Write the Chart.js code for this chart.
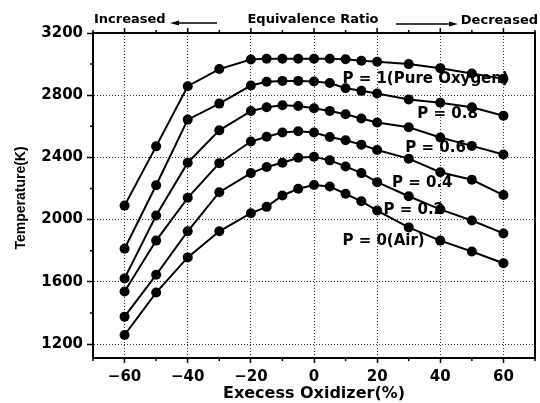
<!DOCTYPE html>
<html>
<head>
<meta charset="utf-8">
<script src="https://cdn.jsdelivr.net/npm/chart.js@4/dist/chart.umd.min.js"></script>
<style>
  html, body { margin: 0; padding: 0; background: #fff; }
  canvas { display: block; }
</style>
</head>
<body>
<canvas id="graf" width="540" height="403"></canvas>
<script>
// Excess oxidizer (%) along the x axis
const oxidizer = [-60, -50, -40, -30, -20, -15, -10, -5, 0, 5, 10, 15, 20, 30, 40, 50, 60]

// Flame temperature (K) per oxygen fraction P
const tempP10 = [2090, 2471, 2858, 2968, 3030, 3034, 3034, 3034, 3034, 3034, 3031, 3022, 3015, 3000, 2974, 2940, 2905]
const tempP08 = [1813, 2221, 2643, 2746, 2862, 2886, 2892, 2892, 2888, 2878, 2845, 2828, 2811, 2773, 2752, 2722, 2668]
const tempP06 = [1622, 2026, 2366, 2574, 2698, 2723, 2735, 2731, 2716, 2699, 2677, 2650, 2625, 2594, 2528, 2474, 2419]
const tempP04 = [1538, 1865, 2140, 2363, 2502, 2533, 2560, 2568, 2560, 2531, 2510, 2482, 2448, 2392, 2305, 2256, 2158]
const tempP02 = [1376, 1645, 1925, 2176, 2299, 2338, 2366, 2398, 2404, 2381, 2342, 2299, 2241, 2150, 2066, 1994, 1911]
const tempP00 = [1258, 1531, 1757, 1925, 2041, 2082, 2155, 2198, 2222, 2213, 2166, 2118, 2058, 1950, 1865, 1795, 1719]

const seriesNames = ['P = 1(Pure Oxygen)', 'P = 0.8', 'P = 0.6', 'P = 0.4', 'P = 0.2', 'P = 0(Air)']
const seriesData = [tempP10, tempP08, tempP06, tempP04, tempP02, tempP00]

// Tick labels
const xTicks = [-60, -40, -20, 0, 20, 40, 60]
const xMinor = [-70, -50, -30, -10, 10, 30, 50, 70]
const yTicks = [1200, 1600, 2000, 2400, 2800, 3200]
const yMinor = [1400, 1800, 2200, 2600, 3000]

const FONT = '"DejaVu Sans", sans-serif'

// Series labels written inside the plot (data coordinates of left edge / middle)
const labelPos = [
    { x: 9.0,  y: 2904 },
    { x: 32.7, y: 2679 },
    { x: 28.9, y: 2458 },
    { x: 24.7, y: 2233 },
    { x: 22.0, y: 2062 },
    { x: 9.0,  y: 1864 }
]

// Frame, minor ticks, titles, labels
const extras = {
    id: 'extras',
    beforeDraw(chart) {
        const c = chart.ctx
        c.save()
        c.fillStyle = '#fff'
        c.fillRect(0, 0, chart.width, chart.height)
        c.restore()
    },
    afterDraw(chart) {
        const c = chart.ctx
        const a = chart.chartArea
        const sx = chart.scales.x
        const sy = chart.scales.y
        c.save()
        c.strokeStyle = '#000'
        c.lineWidth = 2
        c.strokeRect(a.left, a.top, a.right - a.left, a.bottom - a.top)

        // ticks on top edge (outward) and minor ticks
        c.lineWidth = 1.5
        c.beginPath()
        xTicks.forEach(v => {
            const px = sx.getPixelForValue(v)
            c.moveTo(px, a.top); c.lineTo(px, a.top - 5)
        })
        xMinor.forEach(v => {
            const px = sx.getPixelForValue(v)
            c.moveTo(px, a.top); c.lineTo(px, a.top - 3)
            c.moveTo(px, a.bottom); c.lineTo(px, a.bottom + 3)
        })
        yMinor.forEach(v => {
            const py = sy.getPixelForValue(v)
            c.moveTo(a.left, py); c.lineTo(a.left - 3, py)
        })
        c.stroke()

        // top annotation
        c.fillStyle = '#000'
        c.font = 'bold 13px ' + FONT
        c.textBaseline = 'middle'
        c.textAlign = 'left'
        c.fillText('Increased', 94, 20)
        c.textAlign = 'center'
        c.fillText('Equivalence Ratio', 313, 20)
        c.textAlign = 'right'
        c.fillText('Decreased', 538, 21)
        c.lineWidth = 1.5
        c.beginPath()
        c.moveTo(174, 23); c.lineTo(217, 23)
        c.moveTo(396, 24); c.lineTo(452, 24)
        c.stroke()
        c.beginPath()
        c.moveTo(170, 23); c.lineTo(179, 20.5); c.lineTo(179, 25.5); c.closePath()
        c.moveTo(458, 24); c.lineTo(449, 21.5); c.lineTo(449, 26.5); c.closePath()
        c.fill()

        // axis titles
        c.textAlign = 'center'
        c.font = 'bold 16px ' + FONT
        c.fillText('Execess Oxidizer(%)', 314, 394)
        c.save()
        c.translate(21, 198)
        c.rotate(-Math.PI / 2)
        c.font = 'bold 14px "Liberation Sans", sans-serif'
        c.fillText('Temperature(K)', 0, 0)
        c.restore()

        // series labels
        c.textAlign = 'left'
        c.font = 'bold 15px ' + FONT
        labelPos.forEach((p, i) => {
            c.fillText(seriesNames[i], sx.getPixelForValue(p.x), sy.getPixelForValue(p.y))
        })
        c.restore()
    }
}

const datasets = seriesData.map((vals, i) => ({
    label: seriesNames[i],
    data: oxidizer.map((x, j) => ({ x, y: vals[j] })),
    borderColor: '#000',
    backgroundColor: '#000',
    borderWidth: 2,
    pointRadius: 5,
    pointBorderWidth: 0,
    pointBackgroundColor: '#000',
    tension: 0
}))

const ctx = document.getElementById('graf').getContext('2d')
new Chart(ctx, {
    type: 'line',
    data: { datasets },
    options: {
        responsive: false,
        animation: false,
        layout: { padding: { top: 33, right: 4, left: 0, bottom: 0 } },
        plugins: {
            legend: { display: false },
            tooltip: { enabled: false }
        },
        scales: {
            x: {
                type: 'linear',
                min: -70,
                max: 70,
                afterFit: s => { s.height = 45 },
                afterBuildTicks: s => { s.ticks = xTicks.map(v => ({ value: v })) },
                border: { display: true, color: '#000', width: 2, dash: [1, 2] },
                grid: {
                    color: '#333',
                    lineWidth: 1,
                    tickColor: '#000',
                    tickWidth: 1.5,
                    tickLength: 5,
                    tickBorderDash: []
                },
                ticks: {
                    color: '#000',
                    padding: 5,
                    maxRotation: 0,
                    font: { family: FONT, size: 15, weight: 'bold' },
                    callback: v => String(v).replace('-', '\u2212')
                }
            },
            y: {
                min: 1110,
                max: 3200,
                afterFit: s => { s.width = 93 },
                afterBuildTicks: s => { s.ticks = yTicks.map(v => ({ value: v })) },
                border: { display: true, color: '#000', width: 2, dash: [1, 2] },
                grid: {
                    color: '#333',
                    lineWidth: 1,
                    tickColor: '#000',
                    tickWidth: 1.5,
                    tickLength: 6,
                    tickBorderDash: []
                },
                ticks: {
                    color: '#000',
                    padding: 4,
                    font: { family: FONT, size: 15, weight: 'bold' },
                    callback: v => String(v)
                }
            }
        }
    },
    plugins: [extras]
})
</script>
</body>
</html>
